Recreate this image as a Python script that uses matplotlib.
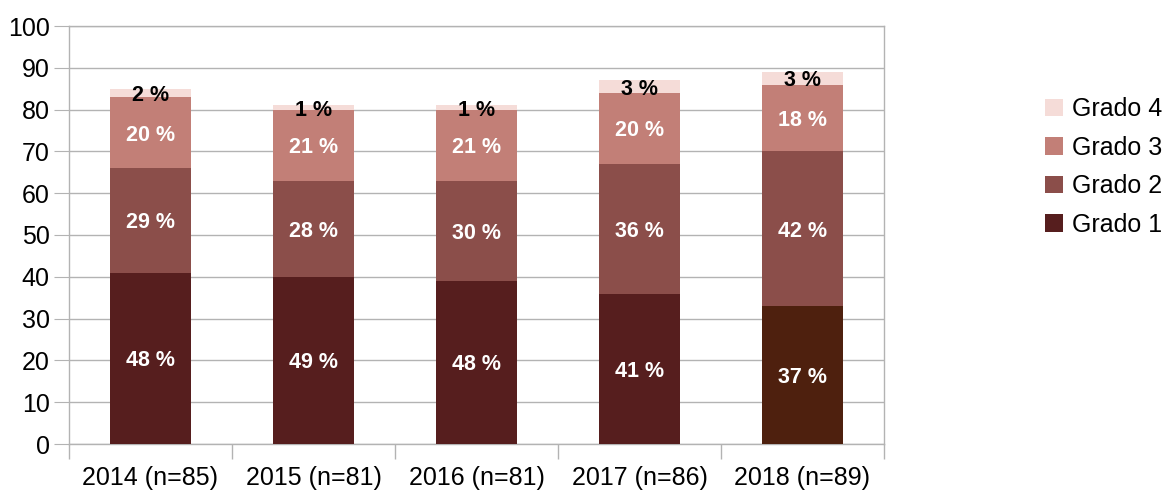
import matplotlib
matplotlib.use("Agg")
import matplotlib.pyplot as plt
import numpy as np

plt.rcParams['font.family'] = ['Liberation Sans', 'DejaVu Sans']

categories = ["2014 (n=85)", "2015 (n=81)", "2016 (n=81)", "2017 (n=86)", "2018 (n=89)"]
grado1 = [41, 40, 39, 36, 33]
grado2 = [25, 23, 24, 31, 37]
grado3 = [17, 17, 17, 17, 16]
grado4 = [2, 1, 1, 3, 3]
pct1 = ["48 %", "49 %", "48 %", "41 %", "37 %"]
pct2 = ["29 %", "28 %", "30 %", "36 %", "42 %"]
pct3 = ["20 %", "21 %", "21 %", "20 %", "18 %"]
pct4 = ["2 %", "1 %", "1 %", "3 %", "3 %"]

c1 = ["#561e1e", "#561e1e", "#561e1e", "#561e1e", "#4e200e"]
c2 = "#8b4e4a"
c3 = "#c27f77"
c4 = "#f5dcd8"

fig = plt.figure(figsize=(11.64, 4.91), dpi=100)
ax = fig.add_axes([69/1164, 1-444/491, (884-69)/1164, (444-26)/491])

x = np.arange(len(categories))
w = 0.5
g1 = np.array(grado1); g2 = np.array(grado2); g3 = np.array(grado3); g4 = np.array(grado4)
b1 = ax.bar(x, g1, w, color=c1, label="Grado 1", zorder=3)
b2 = ax.bar(x, g2, w, bottom=g1, color=c2, label="Grado 2", zorder=3)
b3 = ax.bar(x, g3, w, bottom=g1+g2, color=c3, label="Grado 3", zorder=3)
b4 = ax.bar(x, g4, w, bottom=g1+g2+g3, color=c4, label="Grado 4", zorder=3)

for bars, labels, col in [(b1, pct1, "white"), (b2, pct2, "white"), (b3, pct3, "white"), (b4, pct4, "black")]:
    for rect, lab in zip(bars, labels):
        cy = rect.get_y() + rect.get_height()/2
        ax.text(rect.get_x() + rect.get_width()/2, cy, lab, ha="center", va="center_baseline",
                color=col, fontsize=15.5, fontweight="bold", zorder=5)

ax.set_xlim(-0.5, len(categories)-0.5)
ax.set_ylim(0, 100)
ax.set_yticks(np.arange(0, 101, 10))
ax.set_xticks(x)
ax.set_xticklabels(categories)
ax.set_xticks(np.arange(-0.5, len(categories), 1), minor=True)
ax.tick_params(axis="x", which="major", length=0, labelsize=18, pad=16)
ax.tick_params(axis="x", which="minor", length=11, color="#b3b3b3", width=1)
ax.tick_params(axis="y", length=11, color="#b3b3b3", labelsize=18, pad=3)
ax.grid(axis="y", color="#b3b3b3", linewidth=1, zorder=0)
for s in ax.spines.values():
    s.set_color("#b3b3b3")
    s.set_linewidth(1)

handles = [b4, b3, b2, b1]
leg = fig.legend(handles, ["Grado 4", "Grado 3", "Grado 2", "Grado 1"],
                 loc="center left", bbox_to_anchor=(1045/1164, 1-167/491), frameon=False,
                 fontsize=18, handlelength=0.7, handleheight=0.7, handletextpad=0.4,
                 labelspacing=0.58, borderaxespad=0, borderpad=0)

fig.savefig("out.png", dpi=100)
